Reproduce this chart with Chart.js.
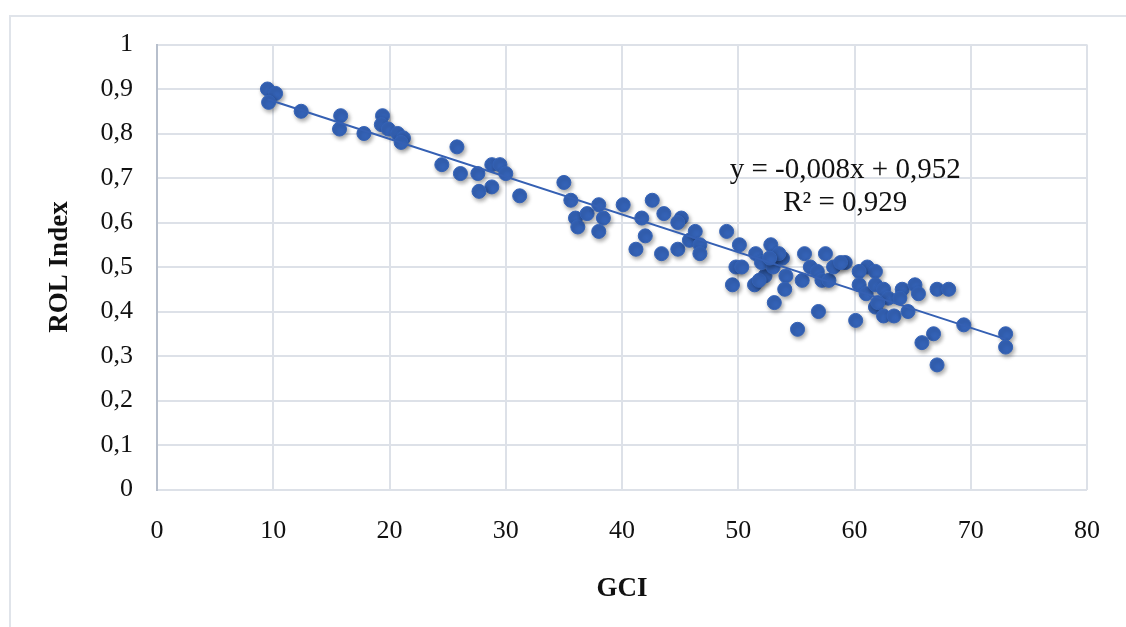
<!DOCTYPE html>
<html>
<head>
<meta charset="utf-8">
<script src="https://cdn.jsdelivr.net/npm/chart.js@4/dist/chart.umd.min.js"></script>
<style>
  html, body { margin: 0; padding: 0; background: #fff; }
  #wrap { position: relative; width: 1126px; height: 627px; }
  #frame { position: absolute; left: 9px; top: 15px; width: 1130px; height: 640px; border-left: 2px solid #e0e4ea; border-top: 2px solid #e0e4ea; box-sizing: border-box; pointer-events: none; }
</style>
</head>
<body>
<div id="wrap">
  <canvas id="c" width="1126" height="627"></canvas>
  <div id="frame"></div>
</div>
<script>
// GCI values (x)
const gci = [
  9.5, 10.2, 9.6, 12.4, 15.8, 15.7, 17.8, 19.4, 19.3, 19.9, 20.7, 21.2, 21.0,
  24.5, 25.8, 26.1, 27.6, 28.8, 29.5, 30.0, 28.8, 27.7, 31.2,
  35.0, 35.6, 36.0, 36.2, 37.0, 38.0, 38.4, 38.0, 40.1, 41.7, 42.0, 41.2, 42.6, 43.6,
  45.1, 44.8, 43.4, 44.8, 45.8, 46.3, 49.0, 46.7, 46.7,
  50.1, 49.5, 49.8, 50.3, 51.5, 52.8, 51.4, 52.3, 51.8, 52.0, 53.0, 53.8, 53.5, 52.7,
  54.1, 54.0, 53.1, 55.1, 55.7, 55.5, 56.2, 56.8, 57.5, 57.2, 57.8, 58.2, 59.2, 58.8,
  56.9, 60.1, 61.1, 61.8, 60.4, 60.4, 61.0, 61.8, 62.5, 62.9, 61.8, 62.0, 62.5, 63.4,
  64.1, 63.9, 64.6, 65.2, 65.5, 67.1, 68.1, 69.4, 66.8, 65.8, 67.1, 73.0, 73.0
];
// ROL Index values (y)
const rol = [
  0.90, 0.89, 0.87, 0.85, 0.84, 0.81, 0.80, 0.84, 0.82, 0.81, 0.80, 0.79, 0.78,
  0.73, 0.77, 0.71, 0.71, 0.73, 0.73, 0.71, 0.68, 0.67, 0.66,
  0.69, 0.65, 0.61, 0.59, 0.62, 0.64, 0.61, 0.58, 0.64, 0.61, 0.57, 0.54, 0.65, 0.62,
  0.61, 0.60, 0.53, 0.54, 0.56, 0.58, 0.58, 0.55, 0.53,
  0.55, 0.46, 0.50, 0.50, 0.53, 0.55, 0.46, 0.48, 0.47, 0.51, 0.50, 0.52, 0.53, 0.52,
  0.48, 0.45, 0.42, 0.36, 0.53, 0.47, 0.50, 0.49, 0.53, 0.47, 0.47, 0.50, 0.51, 0.51,
  0.40, 0.38, 0.50, 0.49, 0.49, 0.46, 0.44, 0.46, 0.45, 0.43, 0.41, 0.42, 0.39, 0.39,
  0.45, 0.43, 0.40, 0.46, 0.44, 0.45, 0.45, 0.37, 0.35, 0.33, 0.28, 0.35, 0.32
];
// Linear trendline end points (as drawn in the picture)
const trendX = [9.5, 73.0];
const trendY = [0.877, 0.338];
// Axis ticks
const xTicks = [0, 10, 20, 30, 40, 50, 60, 70, 80];
const yTicks = [0, 0.1, 0.2, 0.3, 0.4, 0.5, 0.6, 0.7, 0.8, 0.9, 1];
const eqLines = ['y = -0,008x + 0,952', 'R\u00B2 = 0,929'];

const pts = gci.map((x, i) => ({ x: x, y: rol[i] }));
const trend = trendX.map((x, i) => ({ x: x, y: trendY[i] }));
const fmt = v => String(Math.round(v * 10) / 10).replace('.', ',');

const shadowPlugin = {
  id: 'shadow',
  beforeDatasetDraw(chart, args) {
    if (args.index === 1) {
      const ctx = chart.ctx;
      ctx.save();
      ctx.shadowColor = 'rgba(0,0,0,0.35)';
      ctx.shadowBlur = 4;
      ctx.shadowOffsetX = 1.5;
      ctx.shadowOffsetY = 2.5;
    }
  },
  afterDatasetDraw(chart, args) {
    if (args.index === 1) chart.ctx.restore();
  }
};

const eqPlugin = {
  id: 'eq',
  afterDatasetsDraw(chart) {
    const ctx = chart.ctx;
    const xs = chart.scales.x, ys = chart.scales.y;
    ctx.save();
    ctx.fillStyle = '#111';
    ctx.font = '29px "Liberation Serif", "Times New Roman", serif';
    ctx.textAlign = 'center';
    ctx.textBaseline = 'middle';
    ctx.fillText(eqLines[0], xs.getPixelForValue(59.2), ys.getPixelForValue(0.718));
    ctx.fillText(eqLines[1], xs.getPixelForValue(59.2), ys.getPixelForValue(0.644));
    ctx.restore();
  }
};

new Chart(document.getElementById('c'), {
  type: 'scatter',
  data: {
    datasets: [
      {
        type: 'line',
        label: 'Trend',
        data: trend,
        borderColor: '#3560b3',
        borderWidth: 2,
        pointRadius: 0,
        fill: false,
        order: 0
      },
      {
        label: 'ROL',
        data: pts,
        backgroundColor: '#3462b6',
        borderColor: '#3462b6',
        borderWidth: 1,
        pointRadius: 7,
        order: 1
      }
    ]
  },
  options: {
    responsive: false,
    animation: false,
    layout: { padding: { left: 0, right: 33, top: 44.5, bottom: 0 } },
    plugins: { legend: { display: false }, tooltip: { enabled: false } },
    scales: {
      x: {
        type: 'linear',
        min: 0, max: 80,
        afterBuildTicks: s => { s.ticks = xTicks.map(v => ({ value: v })); },
        afterFit: s => { s.height = 137.5; },
        ticks: {
          color: '#111',
          font: { family: '"Liberation Serif", "Times New Roman", serif', size: 26 },
          padding: 26,
          maxRotation: 0,
          callback: v => String(v)
        },
        grid: { color: '#dde1e8', lineWidth: 2, drawTicks: false },
        border: { display: false },
        title: {
          display: true,
          text: 'GCI',
          color: '#111',
          font: { family: '"Liberation Serif", "Times New Roman", serif', size: 27, weight: 'bold' },
          padding: { top: 0, bottom: 22 }
        }
      },
      y: {
        type: 'linear',
        min: 0, max: 1,
        afterBuildTicks: s => { s.ticks = yTicks.map(v => ({ value: v })); },
        afterFit: s => { s.width = 157; },
        ticks: {
          color: '#111',
          font: { family: '"Liberation Serif", "Times New Roman", serif', size: 26 },
          padding: 24,
          callback: v => fmt(v)
        },
        grid: { color: '#dde1e8', lineWidth: 2, drawTicks: false },
        border: { display: true, color: '#b7bfcc', width: 2 },
        title: {
          display: true,
          text: 'ROL Index',
          color: '#111',
          font: { family: '"Liberation Serif", "Times New Roman", serif', size: 27, weight: 'bold' },
          padding: { top: 44, bottom: 0 }
        }
      }
    }
  },
  plugins: [shadowPlugin, eqPlugin]
});
</script>
</body>
</html>
